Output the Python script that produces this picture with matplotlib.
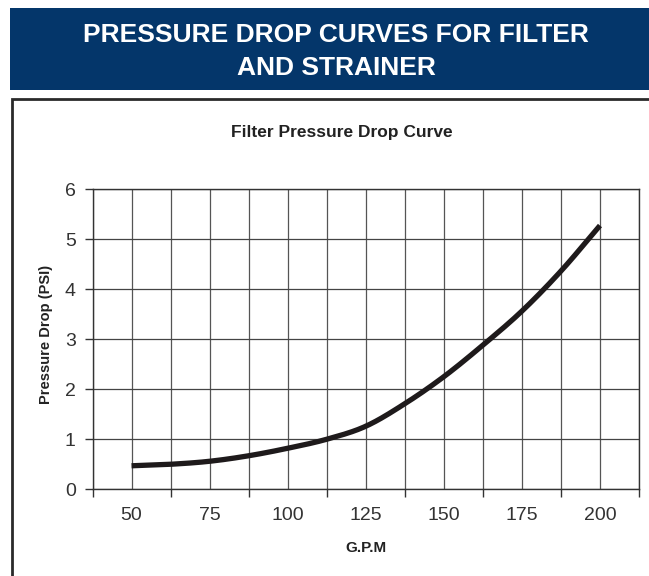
# encoding: utf-8
import numpy as np
import matplotlib
matplotlib.use("Agg")
import matplotlib.pyplot as plt
from matplotlib.patches import Rectangle

# data
gpm = [50, 62.5, 75, 87.5, 100, 112.5, 125, 137.5, 150, 162.5, 175, 187.5, 200]
psi = [0.47, 0.50, 0.56, 0.67, 0.82, 1.00, 1.26, 1.71, 2.25, 2.88, 3.56, 4.36, 5.27]
x_labels = [50, 75, 100, 125, 150, 175, 200]
y_ticks = [0, 1, 2, 3, 4, 5, 6]

header_lines = ["PRESSURE DROP CURVES FOR FILTER", "AND STRAINER"]
chart_title = "Filter Pressure Drop Curve"

W, H = 649, 576


def smooth(x, y, n=20):
    # catmull-rom through the points, like excel's smoothed line
    x = np.asarray(x, float)
    y = np.asarray(y, float)
    px = np.concatenate([[2 * x[0] - x[1]], x, [2 * x[-1] - x[-2]]])
    py = np.concatenate([[2 * y[0] - y[1]], y, [2 * y[-1] - y[-2]]])
    t = np.linspace(0, 1, n, endpoint=False)
    xs, ys = [], []
    for i in range(1, len(px) - 2):
        for p, out in ((px, xs), (py, ys)):
            p0, p1, p2, p3 = p[i - 1], p[i], p[i + 1], p[i + 2]
            out.extend(0.5 * (2 * p1 + (-p0 + p2) * t + (2 * p0 - 5 * p1 + 4 * p2 - p3) * t ** 2
                              + (-p0 + 3 * p1 - 3 * p2 + p3) * t ** 3))
    xs.append(x[-1])
    ys.append(y[-1])
    return xs, ys


def main():
    plt.rcParams["font.family"] = ["Liberation Sans", "DejaVu Sans"]
    fig = plt.figure(figsize=(W / 100, H / 100), dpi=100)

    # blue banner at the top
    fig.add_artist(Rectangle((10 / W, 1 - 90 / H), 1.0, 82 / H, transform=fig.transFigure,
                             facecolor="#04366a", edgecolor="none"))
    fig.text(336 / W, 1 - 35 / H, header_lines[0], color="white", fontsize=19,
             fontweight="bold", ha="center", va="center")
    fig.text(336 / W, 1 - 68 / H, header_lines[1], color="white", fontsize=19,
             fontweight="bold", ha="center", va="center")

    # box around the chart (only left and top edges are visible)
    fig.add_artist(Rectangle((12 / W, -0.1), 1.0, 1.1 - 99 / H, transform=fig.transFigure,
                             facecolor="none", edgecolor="#2a2a2a", linewidth=2))

    ax = fig.add_axes([92.5 / W, 1 - 489.3 / H, 546.5 / W, 300.3 / H])
    sx, sy = smooth(gpm, psi)
    ax.plot(sx, sy, color="#1e1a1b", linewidth=3.8, solid_capstyle="butt")

    ax.set_xlim(37.5, 212.5)
    ax.set_ylim(0, 6)

    # labels sit between the tick marks, like an excel category axis
    ax.set_xticks(np.arange(37.5, 212.6, 25))
    ax.set_xticklabels([])
    ax.set_xticks(x_labels, minor=True)
    ax.set_xticklabels([str(v) for v in x_labels], minor=True)
    ax.tick_params(axis="x", which="major", direction="out", length=6, width=1, color="#333333")
    ax.tick_params(axis="x", which="minor", length=0, pad=13, labelsize=14)
    ax.set_yticks(y_ticks)
    ax.tick_params(axis="y", direction="out", length=6, width=1, color="#333333", pad=6,
                   labelsize=14)
    for lab in ax.get_xticklabels(minor=True) + ax.get_yticklabels():
        lab.set_color("#333333")

    # grid every 12.5 gpm and every 1 psi
    for gx in np.arange(37.5, 212.6, 12.5):
        ax.axvline(gx, color="#555555", linewidth=0.9, zorder=0)
    for gy in y_ticks:
        ax.axhline(gy, color="#444444", linewidth=0.9, zorder=0)
    for s in ax.spines.values():
        s.set_color("#333333")
        s.set_linewidth(1)

    fig.text(342 / W, 1 - 137 / H, chart_title, fontsize=12.5, fontweight="bold",
             ha="center", va="baseline", color="#222222")
    fig.text(46 / W, 1 - 334 / H, "Pressure Drop (PSI)", fontsize=10.5, fontweight="bold",
             rotation=90, ha="center", va="center", color="#222222")
    fig.text(366 / W, 1 - 548 / H, "G.P.M", fontsize=11, fontweight="bold",
             ha="center", va="center", color="#222222")

    fig.savefig("out.png", dpi=100)


if __name__ == '__main__':
    main()
